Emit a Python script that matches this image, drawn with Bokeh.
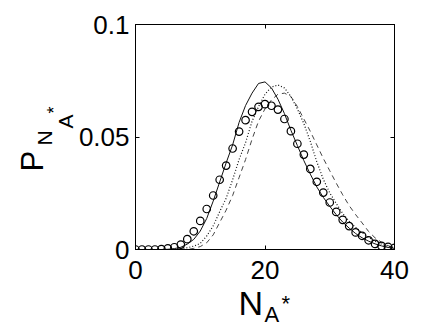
import math
from bokeh.plotting import figure
from bokeh.layouts import column
from bokeh.models import LinearAxis, FixedTicker, Label, Range1d
from bokeh.embed import file_html
from bokeh.resources import INLINE

# ---- data ----
x_sim = list(range(41))
p_sim = [0, 0, 0, 0, 0.0002, 0.0005, 0.001, 0.0022, 0.0046, 0.0081,
         0.0127, 0.018, 0.024, 0.031, 0.0373, 0.0449, 0.0524, 0.0575, 0.0612, 0.0634,
         0.0646, 0.0639, 0.0622, 0.058, 0.0526, 0.047, 0.0422, 0.0358, 0.0301, 0.0253,
         0.0209, 0.0167, 0.0132, 0.0104, 0.0076, 0.0061, 0.0041, 0.0025, 0.0016, 0.0012,
         0.0007]

x_line = list(range(41))
p_solid = [0, 0, 0, 0, 0, 0.0001, 0.0004, 0.001, 0.0024, 0.0045,
           0.0082, 0.0138, 0.0215, 0.030, 0.0385, 0.0465, 0.0565, 0.064, 0.0695, 0.0738,
           0.0745, 0.0718, 0.0668, 0.0604, 0.053, 0.0462, 0.0395, 0.0335, 0.0278, 0.0232,
           0.0192, 0.0155, 0.0122, 0.0095, 0.0071, 0.0052, 0.0037, 0.0025, 0.0016, 0.0009,
           0.0005]
p_dotted = [0, 0, 0, 0, 0, 0, 0, 0.0003, 0.0008, 0.0015,
            0.0027, 0.006, 0.0105, 0.0168, 0.0228, 0.031, 0.040, 0.0475, 0.057, 0.0635,
            0.069, 0.0722, 0.0731, 0.0718, 0.068, 0.0625, 0.056, 0.048, 0.039, 0.0312,
            0.0252, 0.0205, 0.016, 0.0125, 0.0098, 0.0075, 0.0054, 0.0037, 0.0024, 0.0014,
            0.0008]
p_dashed = [0, 0, 0, 0, 0, 0, 0, 0, 0, 0.0005,
            0.0013, 0.003, 0.0065, 0.012, 0.0175, 0.024, 0.032, 0.040, 0.049, 0.057,
            0.0625, 0.0665, 0.069, 0.0695, 0.068, 0.0635, 0.058, 0.0525, 0.0465, 0.0405,
            0.035, 0.0295, 0.0243, 0.0195, 0.0155, 0.0118, 0.008, 0.0052, 0.0032, 0.0017,
            0.0008]

x_ticks = [0, 20, 40]
y_ticks = [0, 0.05, 0.1]
y_tick_labels = {0: "0", 0.05: "0.05", 0.1: "0.1"}

FONT = "Liberation Sans"
W, H = 436, 327

p = figure(width=W, height=H, output_backend="svg", toolbar_location=None,
           x_range=Range1d(0, 40), y_range=Range1d(0, 0.1),
           min_border_left=135, min_border_right=42, min_border_top=24, min_border_bottom=78)
p.xaxis.visible = False
p.yaxis.visible = False
p.grid.visible = False
p.outline_line_color = "black"
p.outline_line_width = 1
p.background_fill_color = "white"
p.border_fill_color = "white"

def style(ax):
    ax.major_tick_in = 4
    ax.major_tick_out = 0
    ax.minor_tick_in = 0
    ax.minor_tick_out = 0
    ax.axis_line_color = "black"
    ax.major_tick_line_color = "black"
    ax.major_label_text_font = FONT
    ax.major_label_text_font_size = "26px"
    ax.major_label_text_color = "black"

bx = LinearAxis(ticker=FixedTicker(ticks=x_ticks))
style(bx)
bx.major_label_standoff = 11
p.add_layout(bx, "below")

lx = LinearAxis(ticker=FixedTicker(ticks=y_ticks), major_label_overrides=y_tick_labels)
style(lx)
lx.major_label_standoff = 6
p.add_layout(lx, "left")

tx = LinearAxis(ticker=FixedTicker(ticks=x_ticks), major_label_overrides={t: "" for t in x_ticks})
style(tx)
tx.major_label_standoff = 0
p.add_layout(tx, "above")

ry = LinearAxis(ticker=FixedTicker(ticks=y_ticks), major_label_overrides={t: "" for t in y_ticks})
style(ry)
ry.major_label_standoff = 0
p.add_layout(ry, "right")

p.line(x_line, p_dashed, line_color="#444444", line_width=1, line_dash="5 4")
p.line(x_line, p_dotted, line_color="#111111", line_width=1.2, line_dash="1 2")
p.line(x_line, p_solid, line_color="#111111", line_width=1)
p.scatter(x_sim, p_sim, marker="circle", size=7.5, fill_color=None,
          line_color="black", line_width=1.2)

# transparent overlay canvas (pixel coordinates) for the axis titles
q = figure(width=W, height=H, output_backend="svg", toolbar_location=None,
           x_range=Range1d(0, W), y_range=Range1d(H, 0), min_border=0,
           x_axis_type=None, y_axis_type=None)
q.grid.visible = False
q.outline_line_color = None
q.background_fill_alpha = 0
q.border_fill_alpha = 0
q.title.visible = False
q.margin = (-H, 0, 0, 0)
for fig in (p, q):
    if "frame_align" in fig.properties():
        fig.frame_align = False

def lab(text, x, y, size, angle=0.0):
    q.add_layout(Label(x=x, y=y, text=text, text_font=FONT, text_font_size=size,
                       text_color="black", text_align="left",
                       text_baseline="alphabetic", angle=angle))

# x title: N_{A^*}
lab("N", 238, 302, "34px")
lab("A", 264, 314, "22px")
lab("*", 281, 303, "22px")

# y title: P_{N_{A^*}}
r = math.pi / 2
lab("P", 32, 171, "31px", r)
lab("N", 44, 145, "21px", r)
lab("A", 65, 128, "21px", r)
lab("*", 53, 113, "18px", r)

open("out.html", "w").write(file_html(column(p, q), INLINE))
